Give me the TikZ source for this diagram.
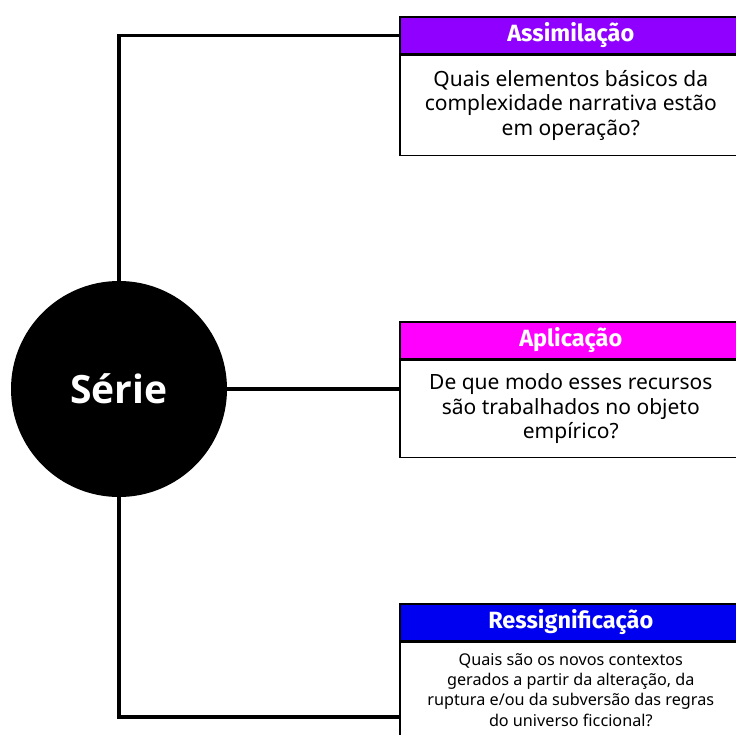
\documentclass[tikz,border=0pt]{standalone}
\usepackage{fontspec}
\setmainfont{Noto Sans}
\newfontfamily\firafont{Fira Sans}
\newfontfamily\circfont{Open Sans}
\usetikzlibrary{positioning,calc}

\definecolor{roxo}{HTML}{8F00FF}
\definecolor{rosa}{HTML}{FF00FF}
\definecolor{azul}{HTML}{0000F0}

\tikzset{
  titulo/.style={draw=black, line width=1.6pt, fill=#1, text=white, minimum width=342pt,
    minimum height=37pt, inner sep=0pt, font=\firafont\bfseries\fontsize{23.5}{28}\selectfont},
  pergunta/.style={draw=black, line width=1.6pt, fill=white, minimum width=342pt, align=center,
    inner sep=0pt, font=\fontsize{21}{24.5}\selectfont},
  ligacao/.style={line width=3.2pt}
}

\begin{document}
\begin{tikzpicture}[x=1pt,y=-1pt]
\useasboundingbox (0,0) rectangle (736,735);
\clip (0,0) rectangle (736,735);

\node[circle,fill=black,text=white,minimum size=216pt,font=\circfont\bfseries\fontsize{39}{46}\selectfont] (serie) at (119,389) {Série};

\node[titulo=roxo,anchor=north west] (assim) at (399,16) {Assimilação};
\node[pergunta,anchor=north west,minimum height=100pt] (assimtxt) at (assim.south west)
  {Quais elementos básicos da\\complexidade narrativa estão\\em operação?};

\node[titulo=rosa,anchor=north west] (aplic) at (399,321) {Aplicação};
\node[pergunta,anchor=north west,minimum height=97pt] (aplictxt) at (aplic.south west)
  {De que modo esses recursos\\são trabalhados no objeto\\empírico?};

\node[titulo=azul,anchor=north west] (ressig) at (399,603) {Ressignificação};
\node[pergunta,anchor=north west,minimum height=95pt,font=\fontsize{16.2}{20.3}\selectfont] (ressigtxt) at (ressig.south west)
  {Quais são os novos contextos\\gerados a partir da alteração, da\\ruptura e/ou da subversão das regras\\do universo ficcional?};

% ligacoes
\coordinate (canto) at (119,717);
\draw[ligacao] (serie.north) |- (assim.west);
\draw[ligacao] (serie.east) -- (serie.east -| aplictxt.west);
\draw[ligacao] (serie.south) -- (canto) -- (canto -| ressigtxt.west);
\end{tikzpicture}
\end{document}
